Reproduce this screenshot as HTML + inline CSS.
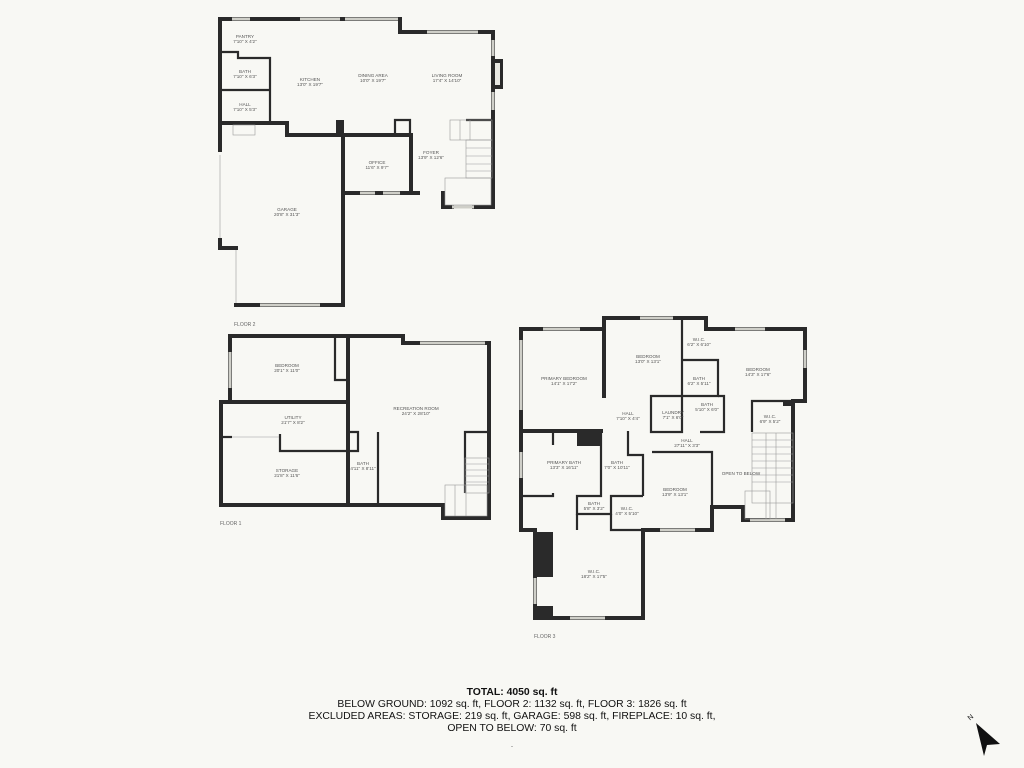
<!DOCTYPE html>
<html><head><meta charset="utf-8"><style>
html,body{margin:0;padding:0;background:#f8f8f4;}
svg{display:block}
.w{fill:none;stroke:#2a2a2a;stroke-width:4;stroke-linecap:square}
.t{fill:none;stroke:#2a2a2a;stroke-width:2.2}
.win{stroke:#cfcfc8;stroke-width:3}
.s{fill:none;stroke:#999;stroke-width:0.6}
text{font-family:"Liberation Sans",sans-serif;fill:#555;font-size:4.6px;text-anchor:middle}
.f{font-size:5px;text-anchor:start;fill:#666}
.b{font-size:10.4px;fill:#111}
</style></head><body>
<svg width="1024" height="768" viewBox="0 0 1024 768" xmlns="http://www.w3.org/2000/svg">
<rect width="1024" height="768" fill="#f8f8f4"/>
<!-- FLOOR 2 -->
<g>
<polyline class="w" points="220,150 220,19 400,19 400,32 493,32 493,207 474,207"/>
<polyline class="w" points="443,193 443,207 452,207"/>
<rect x="493" y="59" width="10" height="30" fill="#2a2a2a"/>
<rect x="495" y="63" width="5" height="22" fill="#e8e8e2"/>
<polyline class="w" points="220,240 220,248 236,248"/>
<polyline class="w" points="236,305 343,305 343,135 411,135 411,193"/>
<polyline class="w" points="220,123 287,123 287,135 343,135"/>
<rect x="336" y="120" width="8" height="15" fill="#2a2a2a"/>
<polyline class="w" points="343,193 418,193"/>
<polyline class="t" points="395,135 395,120 410,120 410,135"/>
<polyline class="t" points="220,52 238,52 238,58 270,58 270,123"/>
<polyline class="t" points="220,90 270,90"/>
<polyline class="t" points="466,120 493,120"/>
<line class="win" x1="232" y1="19" x2="250" y2="19"/>
<line class="win" x1="300" y1="19" x2="340" y2="19"/>
<line class="win" x1="345" y1="19" x2="398" y2="19"/>
<line class="win" x1="427" y1="32" x2="478" y2="32"/>
<line class="win" x1="493" y1="40" x2="493" y2="56"/>
<line class="win" x1="493" y1="92" x2="493" y2="110"/>
<line class="win" x1="260" y1="305" x2="320" y2="305"/>
<line class="win" x1="360" y1="193" x2="375" y2="193"/>
<line class="win" x1="383" y1="193" x2="400" y2="193"/>
<line class="win" x1="452" y1="207" x2="474" y2="207"/>
<line class="s" x1="220" y1="155" x2="220" y2="238"/>
<line class="s" x1="236" y1="250" x2="236" y2="303"/>
<g class="s"><rect x="233" y="125" width="22" height="10"/><rect x="450" y="120" width="42" height="20"/><rect x="466" y="140" width="26" height="38"/><rect x="445" y="178" width="46" height="27"/>
<line x1="466" y1="148" x2="492" y2="148"/><line x1="466" y1="156" x2="492" y2="156"/><line x1="466" y1="164" x2="492" y2="164"/><line x1="466" y1="171" x2="492" y2="171"/><line x1="460" y1="120" x2="460" y2="140"/><line x1="470" y1="120" x2="470" y2="140"/></g>
<text x="245" y="38">PANTRY</text><text x="245" y="43">7'10" X 4'2"</text>
<text x="245" y="73">BATH</text><text x="245" y="78">7'10" X 6'3"</text>
<text x="245" y="106">HALL</text><text x="245" y="111">7'10" X 5'3"</text>
<text x="310" y="81">KITCHEN</text><text x="310" y="86">13'0" X 19'7"</text>
<text x="373" y="77">DINING AREA</text><text x="373" y="82">10'0" X 19'7"</text>
<text x="447" y="77">LIVING ROOM</text><text x="447" y="82">17'4" X 14'10"</text>
<text x="431" y="154">FOYER</text><text x="431" y="159">13'9" X 12'6"</text>
<text x="377" y="164">OFFICE</text><text x="377" y="169">11'6" X 9'7"</text>
<text x="287" y="211">GARAGE</text><text x="287" y="216">20'8" X 31'3"</text>
<text class="f" x="234" y="326">FLOOR 2</text>
</g>
<!-- FLOOR 1 -->
<g>
<polyline class="w" points="230,402 230,336 403,336 403,343 489,343 489,518 443,518 443,505 221,505 221,402 348,402"/>
<polyline class="w" points="348,336 348,505"/>
<polyline class="t" points="335,336 335,380 348,380"/>
<polyline class="t" points="221,437 232,437"/>
<polyline class="t" points="280,434 280,451 358,451 358,432 348,432"/>
<polyline class="t" points="378,432 378,505"/>
<polyline class="t" points="465,493 465,432 489,432"/>
<line class="win" x1="230" y1="352" x2="230" y2="388"/>
<line class="win" x1="420" y1="343" x2="485" y2="343"/>
<line class="s" x1="232" y1="437" x2="279" y2="437"/>
<g class="s"><rect x="465" y="458" width="24" height="35"/><rect x="445" y="485" width="42" height="31"/>
<line x1="465" y1="464" x2="489" y2="464"/><line x1="465" y1="470" x2="489" y2="470"/><line x1="465" y1="476" x2="489" y2="476"/><line x1="465" y1="482" x2="489" y2="482"/><line x1="455" y1="485" x2="455" y2="516"/><line x1="466" y1="485" x2="466" y2="516"/></g>
<text x="287" y="367">BEDROOM</text><text x="287" y="372">20'1" X 11'0"</text>
<text x="293" y="419">UTILITY</text><text x="293" y="424">21'7" X 8'2"</text>
<text x="287" y="472">STORAGE</text><text x="287" y="477">21'8" X 11'6"</text>
<text x="363" y="465">BATH</text><text x="363" y="470">4'11" X 8'11"</text>
<text x="416" y="410">RECREATION ROOM</text><text x="416" y="415">24'2" X 28'10"</text>
<text class="f" x="220" y="525">FLOOR 1</text>
</g>
<!-- FLOOR 3 -->
<g>
<polyline class="w" points="521,530 521,329 604,329 604,318 706,318 706,329 805,329 805,401 793,401 793,520 743,520 743,507 712,507 712,530 643,530 643,618 535,618 535,530 521,530"/>
<polyline class="w" points="604,329 604,396"/>
<polyline class="t" points="682,318 682,396"/>
<polyline class="t" points="682,360 718,360 718,396 651,396 651,432 682,432 682,396"/>
<polyline class="t" points="718,396 724,396 724,432 700,432"/>
<polyline class="t" points="752,432 752,401 793,401"/>
<polyline class="w" points="521,431 601,431"/>
<polyline class="t" points="553,431 553,445"/>
<polyline class="t" points="553,493 553,496 521,496"/>
<polyline class="t" points="601,431 601,496 577,496 577,514 611,514 611,496 643,496"/>
<polyline class="t" points="611,514 611,530 643,530"/>
<polyline class="t" points="628,431 628,455 643,455 643,496"/>
<polyline class="t" points="652,452 712,452 712,505"/>
<polyline class="t" points="577,514 577,530"/>
<rect x="577" y="431" width="24" height="15" fill="#2a2a2a"/>
<rect x="535" y="532" width="18" height="45" fill="#2a2a2a"/>
<rect x="535" y="606" width="18" height="12" fill="#2a2a2a"/>
<rect x="783" y="401" width="10" height="5" fill="#2a2a2a"/>
<line class="win" x1="543" y1="329" x2="580" y2="329"/>
<line class="win" x1="640" y1="318" x2="673" y2="318"/>
<line class="win" x1="735" y1="329" x2="765" y2="329"/>
<line class="win" x1="805" y1="350" x2="805" y2="368"/>
<line class="win" x1="521" y1="340" x2="521" y2="410"/>
<line class="win" x1="521" y1="452" x2="521" y2="478"/>
<line class="win" x1="535" y1="578" x2="535" y2="604"/>
<line class="win" x1="570" y1="618" x2="605" y2="618"/>
<line class="win" x1="660" y1="530" x2="695" y2="530"/>
<line class="win" x1="750" y1="520" x2="785" y2="520"/>
<g class="s"><rect x="752" y="433" width="41" height="70"/><rect x="745" y="491" width="25" height="28"/>
<line x1="752" y1="440" x2="793" y2="440"/><line x1="752" y1="447" x2="793" y2="447"/><line x1="752" y1="454" x2="793" y2="454"/><line x1="752" y1="461" x2="793" y2="461"/><line x1="752" y1="468" x2="793" y2="468"/><line x1="752" y1="475" x2="793" y2="475"/><line x1="752" y1="482" x2="793" y2="482"/><line x1="766" y1="433" x2="766" y2="519"/><line x1="776" y1="433" x2="776" y2="519"/></g>
<text x="564" y="380">PRIMARY BEDROOM</text><text x="564" y="385">14'1" X 17'2"</text>
<text x="648" y="358">BEDROOM</text><text x="648" y="363">13'0" X 13'1"</text>
<text x="699" y="341">W.I.C.</text><text x="699" y="346">6'2" X 6'10"</text>
<text x="699" y="380">BATH</text><text x="699" y="385">6'2" X 5'11"</text>
<text x="758" y="371">BEDROOM</text><text x="758" y="376">14'3" X 17'6"</text>
<text x="628" y="415">HALL</text><text x="628" y="420">7'10" X 4'4"</text>
<text x="673" y="414">LAUNDRY</text><text x="673" y="419">7'1" X 6'0"</text>
<text x="707" y="406">BATH</text><text x="707" y="411">5'10" X 6'0"</text>
<text x="770" y="418">W.I.C.</text><text x="770" y="423">6'9" X 5'2"</text>
<text x="687" y="442">HALL</text><text x="687" y="447">27'11" X 3'3"</text>
<text x="741" y="475">OPEN TO BELOW</text>
<text x="564" y="464">PRIMARY BATH</text><text x="564" y="469">13'3" X 16'11"</text>
<text x="617" y="464">BATH</text><text x="617" y="469">7'0" X 10'11"</text>
<text x="675" y="491">BEDROOM</text><text x="675" y="496">13'9" X 13'1"</text>
<text x="594" y="505">BATH</text><text x="594" y="510">5'8" X 3'2"</text>
<text x="627" y="510">W.I.C.</text><text x="627" y="515">4'0" X 5'10"</text>
<text x="594" y="573">W.I.C.</text><text x="594" y="578">18'2" X 17'5"</text>
<text class="f" x="534" y="638">FLOOR 3</text>
</g>
<text class="b" x="512" y="695" style="font-weight:bold">TOTAL: 4050 sq. ft</text>
<text class="b" x="512" y="707">BELOW GROUND: 1092 sq. ft, FLOOR 2: 1132 sq. ft, FLOOR 3: 1826 sq. ft</text>
<text class="b" x="512" y="719">EXCLUDED AREAS: STORAGE: 219 sq. ft, GARAGE: 598 sq. ft, FIREPLACE: 10 sq. ft,</text>
<text class="b" x="512" y="731">OPEN TO BELOW: 70 sq. ft</text>
<text x="512" y="748" style="font-size:6px">-</text>
<polygon points="976,723 1000,744 987,745 984,756" fill="#111"/>
<text x="972" y="719" style="font-size:7px;fill:#111" transform="rotate(-40 972 719)">N</text>
</svg>
</body></html>
